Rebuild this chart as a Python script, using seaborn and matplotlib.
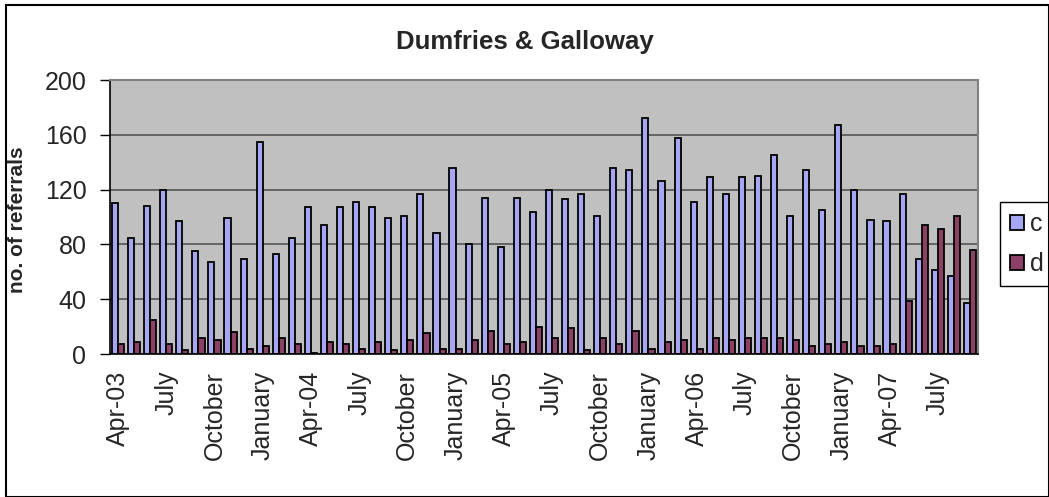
import matplotlib
matplotlib.use('Agg')
import matplotlib.pyplot as plt
import seaborn as sns
import pandas as pd
import numpy as np
from matplotlib.patches import Rectangle

# monthly referrals, Apr-03 .. Sep-07
months = pd.period_range('2003-04', '2007-09', freq='M').strftime('%b-%y').tolist()
c_vals = [110, 85, 108, 120, 97, 75, 67, 99, 69, 155, 73, 85,
          107, 94, 107, 111, 107, 99, 101, 117, 88, 136, 80, 114,
          78, 114, 104, 120, 113, 117, 101, 136, 134, 172, 126, 158,
          111, 129, 117, 129, 130, 145, 101, 134, 105, 167, 120, 98,
          97, 117, 69, 61, 57, 37]
d_vals = [7, 9, 25, 7, 3, 12, 10, 16, 4, 6, 12, 7,
          1, 9, 7, 4, 9, 3, 10, 15, 4, 4, 10, 17,
          7, 9, 20, 12, 19, 3, 12, 7, 17, 4, 9, 10,
          4, 12, 10, 12, 12, 12, 10, 6, 7, 9, 6, 6,
          7, 39, 94, 91, 101, 76]
tick_text = ['Apr-03', 'July', 'October', 'January',
             'Apr-04', 'July', 'October', 'January',
             'Apr-05', 'July', 'October', 'January',
             'Apr-06', 'July', 'October', 'January',
             'Apr-07', 'July']

df = pd.DataFrame({'month': months * 2,
                   'value': c_vals + d_vals,
                   'series': ['c'] * len(months) + ['d'] * len(months)})

sns.set_style('white')
plt.rcParams['font.family'] = ['Liberation Sans', 'DejaVu Sans']

fig, ax = plt.subplots(figsize=(10.49, 4.97), dpi=100)
fig.subplots_adjust(left=110 / 1049, right=978 / 1049, top=1 - 80 / 497, bottom=1 - 354 / 497)

sns.barplot(data=df, x='month', y='value', hue='series', order=months,
            palette={'c': '#9999FF', 'd': '#993366'}, edgecolor='black',
            linewidth=1.3, width=0.76, ax=ax, legend=True)

ax.set_facecolor('#C0C0C0')
ax.set_ylim(0, 200)
ax.set_yticks(range(0, 201, 40))
ax.set_xlim(-0.5, len(months) - 0.5)
ax.set_axisbelow(True)
ax.yaxis.grid(True, color='#555555', linewidth=1.2)

ax.set_xticks(range(0, len(months), 3))
ax.set_xticklabels(tick_text, rotation=90, fontsize=18)
ax.tick_params(axis='x', length=0, pad=12)
ax.set_xticks(np.arange(-0.5, len(months), 1), minor=True)
ax.tick_params(axis='x', which='minor', length=7, width=1, color='black', direction='out')
ax.tick_params(axis='y', labelsize=18, length=7, width=1, color='black', direction='out', left=True, pad=10)

for side in ['top', 'right']:
    ax.spines[side].set_color('#808080')
    ax.spines[side].set_linewidth(1.5)
for side in ['left', 'bottom']:
    ax.spines[side].set_color('black')
    ax.spines[side].set_linewidth(1.2)

ax.set_xlabel('')
ax.set_ylabel('no. of referrals', fontsize=15, fontweight='bold')
ax.yaxis.set_label_coords(-0.096, 0.49)

fig.text(0.5, 1 - 42 / 497, 'Dumfries & Galloway', ha='center', va='center',
         fontsize=18.5, fontweight='bold')

handles, labels = ax.get_legend_handles_labels()
ax.legend(handles, labels, loc='upper left', bbox_to_anchor=(1000 / 1049, 1 - 202 / 497),
          bbox_transform=fig.transFigure, fontsize=18, frameon=True, fancybox=False,
          edgecolor='black', framealpha=1, borderpad=0.4, labelspacing=0.65,
          handlelength=0.56, handleheight=0.56, handletextpad=0.25, borderaxespad=0)
ax.get_legend().get_frame().set_linewidth(1)

# outer chart border
fig.patches.append(Rectangle((6 / 1049, 0), 1 - 6 / 1049, 1 - 5 / 497, transform=fig.transFigure,
                             fill=False, edgecolor='black', linewidth=1.5))

fig.savefig('out.png', dpi=100)
